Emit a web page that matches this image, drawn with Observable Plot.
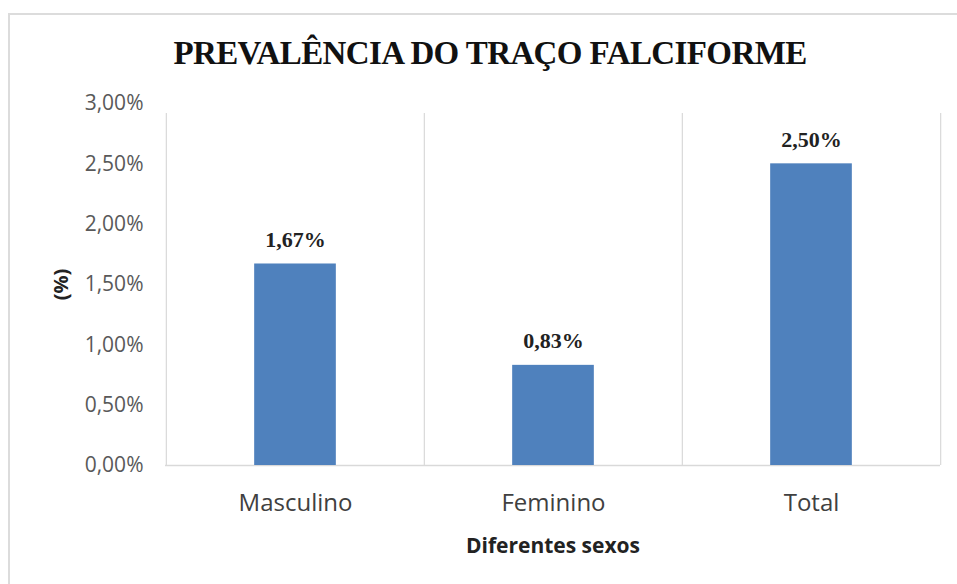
<!DOCTYPE html>
<html>
<head>
<meta charset="utf-8">
<script src="https://cdn.jsdelivr.net/npm/d3@7"></script>
<script src="https://cdn.jsdelivr.net/npm/@observablehq/plot@0.6"></script>
<style>
  html, body { margin: 0; padding: 0; background: #fff; width: 957px; height: 584px; overflow: hidden; }
  #frame { position: absolute; left: 8px; top: 13px; width: 1000px; height: 700px; border: 2px solid #dcdcdc; box-sizing: border-box; z-index: 10; pointer-events: none; }
  #title { position: absolute; left: 0; top: 37px; width: 980px; text-align: center; font-family: "Liberation Serif", "Times New Roman", serif; font-weight: bold; font-size: 33px; line-height: 1; color: #111; letter-spacing: -0.6px; word-spacing: 0px; }
  #chart { position: absolute; left: 0; top: 85px; }
</style>
</head>
<body>
<div id="frame"></div>
<div id="title">PREVALÊNCIA DO TRAÇO FALCIFORME</div>
<div id="chart"></div>
<script>
const categories = ["Masculino", "Feminino", "Total"];
const values = [1.67, 0.83, 2.50];
const valueLabels = ["1,67%", "0,83%", "2,50%"];
const yTicks = [0, 0.5, 1.0, 1.5, 2.0, 2.5, 3.0];

const data = categories.map((c, i) => ({cat: c, v: values[i], label: valueLabels[i]}));

const W = 957, H = 499, mL = 165, mR = 17, mT = 18, mB = 119;
const bw = (W - mL - mR) / categories.length;
const barW = 82;
const inset = (bw - barW) / 2;
const grid = "#d9d9d9";
const sans = "'Open Sans', Lato, sans-serif";

const chart = Plot.plot({
  width: W, height: H,
  marginLeft: mL, marginRight: mR, marginTop: mT, marginBottom: mB,
  style: {fontFamily: sans, background: "transparent", overflow: "visible"},
  x: {type: "band", domain: categories, padding: 0},
  y: {domain: [0, 3]},
  marks: [
    Plot.ruleX(categories, {x: d => d, dx: -bw / 2, y1: 0, y2: 3, stroke: grid, strokeWidth: 1.2, insetBottom: -10}),
    Plot.ruleX([categories[categories.length - 1]], {x: d => d, dx: bw / 2, y1: 0, y2: 3, stroke: grid, strokeWidth: 1.2, insetBottom: -10}),
    Plot.ruleY([0], {stroke: grid, strokeWidth: 1.5}),
    Plot.barY(data, {x: "cat", y: "v", fill: "#4f81bd", insetLeft: inset, insetRight: inset}),
    Plot.text(data, {x: "cat", y: "v", text: "label", dy: -24, fontFamily: "'Liberation Serif', serif", fontWeight: "bold", fontSize: 22, fill: "#222"}),
    Plot.axisY({ticks: yTicks, tickSize: 0, tickPadding: 22, tickFormat: d => d.toFixed(2).replace(".", ",") + "%", fontSize: 21, color: "#595959", label: null}),
    Plot.axisX({tickSize: 0, tickPadding: 28, fontSize: 24, color: "#404040", label: null}),
    Plot.text(["Diferentes sexos"], {frameAnchor: "bottom", lineAnchor: "middle", textAnchor: "middle", dy: 81, fontWeight: "bold", fontSize: 21, fill: "#222"}),
    Plot.text(["(%)"], {frameAnchor: "left", lineAnchor: "middle", textAnchor: "middle", dx: -104, rotate: -90, fontWeight: "bold", fontSize: 20, fill: "#222"})
  ]
});
document.getElementById("chart").appendChild(chart);
</script>
</body>
</html>
